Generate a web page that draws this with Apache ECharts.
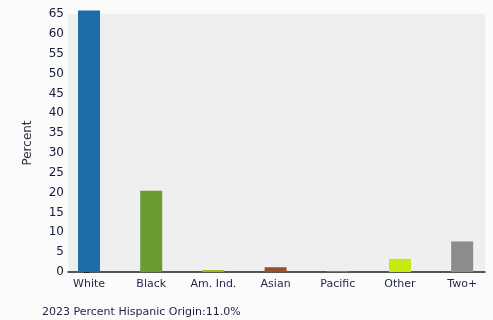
<!DOCTYPE html>
<html>
<head>
<meta charset="utf-8">
<script src="https://cdn.jsdelivr.net/npm/echarts@6/dist/echarts.min.js"></script>
<style>
  html, body { margin: 0; padding: 0; background: #fbfbfb; }
  #race { width: 493px; height: 320px; }
</style>
</head>
<body>
<div id="race"></div>
<script>
  var categories = ['White', 'Black', 'Am. Ind.', 'Asian', 'Pacific', 'Other', 'Two+'];
  var percents = [65.9, 20.5, 0.5, 1.2, 0.1, 3.3, 7.7];
  var barColors = ['#1b6fa6', '#6b9b32', '#a3b52a', '#9a4e2b', '#d9a0b8', '#c8ea12', '#8c8c8c'];
  var yTicks = [0, 5, 10, 15, 20, 25, 30, 35, 40, 45, 50, 55, 60, 65];
  var hispanicNote = '2023 Percent Hispanic Origin:11.0%';

  var chart = echarts.init(document.getElementById('race'));
  var option;
  option = {
    animation: false,
    backgroundColor: '#fbfbfb',
    textStyle: { fontFamily: 'DejaVu Sans' },
    grid: {
      left: 68, right: 8, top: 14, bottom: 48,
      show: true,
      backgroundColor: '#efefef',
      borderWidth: 0
    },
    title: {
      text: hispanicNote,
      left: 37, top: 302,
      textStyle: { fontSize: 11, fontWeight: 'normal', color: '#1c2440', fontFamily: 'DejaVu Sans' }
    },
    xAxis: {
      type: 'value',
      min: -0.338,
      max: 6.367,
      splitLine: { show: false },
      axisLine: { show: true, onZero: false, lineStyle: { color: '#222', width: 1.5 } },
      axisTick: { show: false },
      axisLabel: {
        customValues: categories.map(function (c, i) { return i; }),
        formatter: function (v) { return categories[Math.round(v)]; },
        color: '#1f2748', fontSize: 11, margin: 7
      }
    },
    yAxis: {
      type: 'value',
      min: 0,
      max: yTicks[yTicks.length - 1],
      interval: 5,
      name: 'Percent',
      nameLocation: 'middle',
      nameGap: 34,
      nameTextStyle: { color: '#2e3240', fontSize: 12 },
      splitLine: { show: false },
      axisLine: { show: true, lineStyle: { color: '#222', width: 1.5 } },
      axisTick: { show: true, length: 5, lineStyle: { color: '#222' } },
      axisLabel: { color: '#141c38', fontSize: 12, margin: 4 }
    },
    series: [
      {
        type: 'bar',
        barWidth: 22,
        clip: false,
        data: percents.map(function (v, i) {
          return { value: [i, v], itemStyle: { color: barColors[i] } };
        })
      }
    ]
  };
  chart.setOption(option);
</script>
</body>
</html>
